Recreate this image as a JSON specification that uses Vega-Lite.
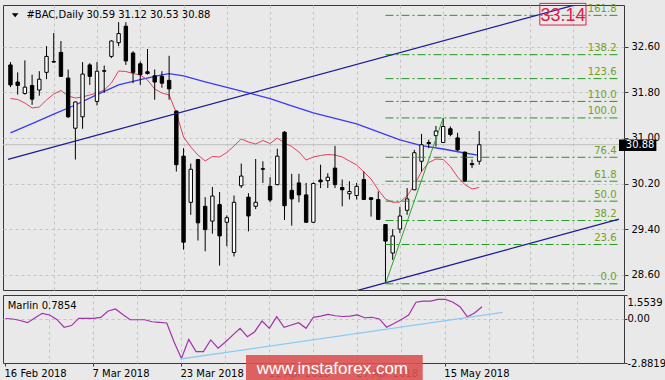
{
  "$schema": "https://vega.github.io/schema/vega-lite/v6.json",
  "background": "#e9e9e9",
  "padding": {"left": 2, "top": 2, "right": 0, "bottom": 0},
  "autosize": {"type": "pad"},
  "config": {
    "view": {"fill": "#e9e9e9", "stroke": "#3a3a3a", "strokeWidth": 1},
    "text": {"font": "DejaVu Sans"}
  },
  "spacing": 3,
  "vconcat": [
    {
      "width": 621,
      "height": 285,
      "layer": [
        {
          "data": {"values": [
            {"i": 0, "d": "2018-02-16", "O": 32.28, "H": 32.33, "L": 31.89, "C": 31.93},
            {"i": 1, "d": "2018-02-20", "O": 31.98, "H": 32.15, "L": 31.76, "C": 31.92},
            {"i": 2, "d": "2018-02-21", "O": 31.78, "H": 32.36, "L": 31.76, "C": 31.89},
            {"i": 3, "d": "2018-02-22", "O": 31.92, "H": 32.11, "L": 31.58, "C": 31.68},
            {"i": 4, "d": "2018-02-23", "O": 31.84, "H": 32.17, "L": 31.74, "C": 32.03},
            {"i": 5, "d": "2018-02-26", "O": 32.15, "H": 32.61, "L": 32.03, "C": 32.43},
            {"i": 6, "d": "2018-02-27", "O": 32.34, "H": 32.84, "L": 32.32, "C": 32.33},
            {"i": 7, "d": "2018-02-28", "O": 32.50, "H": 32.70, "L": 32.07, "C": 32.08},
            {"i": 8, "d": "2018-03-01", "O": 32.05, "H": 32.20, "L": 31.35, "C": 31.37},
            {"i": 9, "d": "2018-03-02", "O": 31.17, "H": 31.64, "L": 30.62, "C": 31.63},
            {"i": 10, "d": "2018-03-05", "O": 31.37, "H": 32.33, "L": 31.16, "C": 32.12},
            {"i": 11, "d": "2018-03-06", "O": 32.28, "H": 32.31, "L": 31.93, "C": 32.08},
            {"i": 12, "d": "2018-03-07", "O": 31.64, "H": 32.33, "L": 31.57, "C": 32.17},
            {"i": 13, "d": "2018-03-08", "O": 32.18, "H": 32.27, "L": 31.79, "C": 32.17},
            {"i": 14, "d": "2018-03-09", "O": 32.43, "H": 32.71, "L": 32.40, "C": 32.70},
            {"i": 15, "d": "2018-03-12", "O": 32.67, "H": 33.03, "L": 32.61, "C": 32.83},
            {"i": 16, "d": "2018-03-13", "O": 32.96, "H": 33.03, "L": 32.28, "C": 32.35},
            {"i": 17, "d": "2018-03-14", "O": 32.49, "H": 32.52, "L": 31.96, "C": 32.15},
            {"i": 18, "d": "2018-03-15", "O": 32.30, "H": 32.34, "L": 31.93, "C": 32.11},
            {"i": 19, "d": "2018-03-16", "O": 32.16, "H": 32.56, "L": 32.11, "C": 32.13},
            {"i": 20, "d": "2018-03-19", "O": 32.09, "H": 32.20, "L": 31.67, "C": 31.98},
            {"i": 21, "d": "2018-03-20", "O": 32.08, "H": 32.17, "L": 31.88, "C": 31.96},
            {"i": 22, "d": "2018-03-21", "O": 32.01, "H": 32.44, "L": 31.67, "C": 31.86},
            {"i": 23, "d": "2018-03-22", "O": 31.47, "H": 31.48, "L": 30.41, "C": 30.53},
            {"i": 24, "d": "2018-03-23", "O": 30.68, "H": 30.82, "L": 29.04, "C": 29.17},
            {"i": 25, "d": "2018-03-26", "O": 29.87, "H": 30.55, "L": 29.65, "C": 30.45},
            {"i": 26, "d": "2018-03-27", "O": 30.62, "H": 30.63, "L": 29.20, "C": 29.51},
            {"i": 27, "d": "2018-03-28", "O": 29.80, "H": 29.96, "L": 29.01, "C": 29.39},
            {"i": 28, "d": "2018-03-29", "O": 29.54, "H": 30.14, "L": 29.32, "C": 29.98},
            {"i": 29, "d": "2018-04-02", "O": 29.83, "H": 30.05, "L": 28.76, "C": 29.28},
            {"i": 30, "d": "2018-04-03", "O": 29.52, "H": 29.64, "L": 29.10, "C": 29.60},
            {"i": 31, "d": "2018-04-04", "O": 28.99, "H": 29.99, "L": 28.92, "C": 29.87},
            {"i": 32, "d": "2018-04-05", "O": 30.16, "H": 30.55, "L": 30.12, "C": 30.33},
            {"i": 33, "d": "2018-04-06", "O": 29.96, "H": 30.03, "L": 29.36, "C": 29.63},
            {"i": 34, "d": "2018-04-09", "O": 29.80, "H": 30.63, "L": 29.75, "C": 29.87},
            {"i": 35, "d": "2018-04-10", "O": 30.46, "H": 30.59, "L": 30.21, "C": 30.45},
            {"i": 36, "d": "2018-04-11", "O": 30.15, "H": 30.31, "L": 29.87, "C": 29.91},
            {"i": 37, "d": "2018-04-12", "O": 30.18, "H": 30.81, "L": 30.17, "C": 30.68},
            {"i": 38, "d": "2018-04-13", "O": 31.10, "H": 31.12, "L": 29.56, "C": 29.81},
            {"i": 39, "d": "2018-04-16", "O": 30.08, "H": 30.37, "L": 29.46, "C": 29.93},
            {"i": 40, "d": "2018-04-17", "O": 30.21, "H": 30.37, "L": 29.87, "C": 30.00},
            {"i": 41, "d": "2018-04-18", "O": 30.00, "H": 30.21, "L": 29.51, "C": 29.52},
            {"i": 42, "d": "2018-04-19", "O": 29.52, "H": 30.22, "L": 29.51, "C": 30.20},
            {"i": 43, "d": "2018-04-20", "O": 30.26, "H": 30.53, "L": 30.12, "C": 30.23},
            {"i": 44, "d": "2018-04-23", "O": 30.25, "H": 30.38, "L": 30.12, "C": 30.31},
            {"i": 45, "d": "2018-04-24", "O": 30.47, "H": 30.86, "L": 30.12, "C": 30.18},
            {"i": 46, "d": "2018-04-25", "O": 30.13, "H": 30.27, "L": 29.80, "C": 30.09},
            {"i": 47, "d": "2018-04-26", "O": 30.02, "H": 30.24, "L": 29.92, "C": 30.06},
            {"i": 48, "d": "2018-04-27", "O": 29.99, "H": 30.21, "L": 29.92, "C": 30.15},
            {"i": 49, "d": "2018-04-30", "O": 30.27, "H": 30.41, "L": 29.91, "C": 29.92},
            {"i": 50, "d": "2018-05-01", "O": 29.95, "H": 29.96, "L": 29.62, "C": 29.92},
            {"i": 51, "d": "2018-05-02", "O": 29.92, "H": 30.06, "L": 29.56, "C": 29.57},
            {"i": 52, "d": "2018-05-03", "O": 29.48, "H": 29.49, "L": 28.44, "C": 29.19},
            {"i": 53, "d": "2018-05-04", "O": 28.98, "H": 29.40, "L": 28.86, "C": 29.28},
            {"i": 54, "d": "2018-05-07", "O": 29.40, "H": 29.79, "L": 29.33, "C": 29.63},
            {"i": 55, "d": "2018-05-08", "O": 29.73, "H": 30.12, "L": 29.65, "C": 29.93},
            {"i": 56, "d": "2018-05-09", "O": 30.09, "H": 30.79, "L": 30.08, "C": 30.74},
            {"i": 57, "d": "2018-05-10", "O": 30.59, "H": 31.07, "L": 30.41, "C": 30.88},
            {"i": 58, "d": "2018-05-11", "O": 30.92, "H": 30.97, "L": 30.82, "C": 30.90},
            {"i": 59, "d": "2018-05-14", "O": 31.04, "H": 31.21, "L": 30.85, "C": 31.12},
            {"i": 60, "d": "2018-05-15", "O": 30.92, "H": 31.35, "L": 30.91, "C": 31.20},
            {"i": 61, "d": "2018-05-16", "O": 31.16, "H": 31.20, "L": 31.03, "C": 31.06},
            {"i": 62, "d": "2018-05-17", "O": 31.00, "H": 31.09, "L": 30.77, "C": 30.79},
            {"i": 63, "d": "2018-05-18", "O": 30.75, "H": 30.76, "L": 30.23, "C": 30.24},
            {"i": 64, "d": "2018-05-21", "O": 30.55, "H": 30.62, "L": 30.47, "C": 30.53},
            {"i": 65, "d": "2018-05-22", "O": 30.59, "H": 31.12, "L": 30.53, "C": 30.88}
          ]},
          "layer": [
            {
              "mark": {"type": "rule", "color": "#000000", "strokeWidth": 1},
              "encoding": {
                "x": {"field": "i", "type": "quantitative", "scale": {"domain": [-0.341, 84.38], "nice": false, "zero": false},
                  "axis": {"values": [6, 12, 18, 24, 30, 36, 42, 48, 54, 60, 66, 72, 78], "tickCount": 30, "grid": true, "gridColor": "#c4c4c4", "gridDash": [3, 3], "labels": false, "ticks": false, "domain": false, "title": null}},
                "y": {"field": "L", "type": "quantitative", "scale": {"domain": [28.3316, 33.3316], "nice": false, "zero": false},
                  "axis": {"orient": "right", "values": [28.6, 29.4, 30.2, 31.0, 31.8, 32.6], "tickCount": 20, "format": ".2f", "grid": true, "gridColor": "#c4c4c4", "gridDash": [3, 3], "domain": false, "ticks": true, "tickColor": "#3a3a3a", "tickSize": 4, "labelPadding": 3, "labelFont": "DejaVu Sans", "labelFontSize": 10, "labelColor": "#000000", "labelOverlap": false, "labelFlush": false, "title": null}},
                "y2": {"field": "H"},
                "opacity": {"value": 0}
              }
            },
            {
              "data": {"values": [{"p": 30.88}]},
              "mark": {"type": "rule", "color": "#bdbdbd", "strokeWidth": 1},
              "encoding": {
                "y": {"field": "p", "type": "quantitative", "title": null, "scale": {"domain": [28.3316, 33.3316], "nice": false, "zero": false}}
              }
            },
            {
              "data": {"values": [
                {"i": 0, "p": 31.089}, {"i": 3, "p": 31.251}, {"i": 6, "p": 31.416}, {"i": 9, "p": 31.577},
                {"i": 12, "p": 31.758}, {"i": 15, "p": 31.930}, {"i": 18, "p": 32.023}, {"i": 21, "p": 32.104},
                {"i": 22, "p": 32.126}, {"i": 24, "p": 32.088}, {"i": 27, "p": 31.984}, {"i": 30, "p": 31.886},
                {"i": 33, "p": 31.789}, {"i": 36, "p": 31.689}, {"i": 39, "p": 31.560}, {"i": 42, "p": 31.437},
                {"i": 45, "p": 31.344}, {"i": 48, "p": 31.246}, {"i": 51, "p": 31.107}, {"i": 54, "p": 30.967},
                {"i": 57, "p": 30.863}, {"i": 60, "p": 30.805}, {"i": 63, "p": 30.735}, {"i": 65, "p": 30.693}
              ]},
              "mark": {"type": "line", "color": "#3b3bf2", "strokeWidth": 1.3},
              "encoding": {
                "x": {"field": "i", "type": "quantitative", "title": null, "scale": {"domain": [-0.341, 84.38], "nice": false, "zero": false}},
                "y": {"field": "p", "type": "quantitative", "title": null, "scale": {"domain": [28.3316, 33.3316], "nice": false, "zero": false}}
              }
            },
            {
              "data": {"values": [
                {"i": 0, "p": 31.691}, {"i": 1, "p": 31.674}, {"i": 2, "p": 31.612}, {"i": 3, "p": 31.525},
                {"i": 4, "p": 31.542}, {"i": 5, "p": 31.665}, {"i": 6, "p": 31.770}, {"i": 7, "p": 31.832},
                {"i": 8, "p": 31.735}, {"i": 9, "p": 31.700}, {"i": 10, "p": 31.718}, {"i": 11, "p": 31.753},
                {"i": 12, "p": 31.788}, {"i": 13, "p": 31.840}, {"i": 14, "p": 31.963}, {"i": 15, "p": 32.174},
                {"i": 16, "p": 32.165}, {"i": 17, "p": 32.130}, {"i": 18, "p": 32.104}, {"i": 19, "p": 32.016},
                {"i": 20, "p": 31.858}, {"i": 21, "p": 31.788}, {"i": 22, "p": 31.753}, {"i": 23, "p": 31.437},
                {"i": 24, "p": 31.016}, {"i": 25, "p": 30.840}, {"i": 26, "p": 30.700}, {"i": 27, "p": 30.595},
                {"i": 28, "p": 30.674}, {"i": 29, "p": 30.665}, {"i": 30, "p": 30.744}, {"i": 31, "p": 30.858},
                {"i": 32, "p": 30.981}, {"i": 33, "p": 30.928}, {"i": 34, "p": 30.893}, {"i": 35, "p": 30.954},
                {"i": 36, "p": 30.902}, {"i": 37, "p": 30.998}, {"i": 38, "p": 30.911}, {"i": 39, "p": 30.849},
                {"i": 40, "p": 30.753}, {"i": 41, "p": 30.612}, {"i": 42, "p": 30.665}, {"i": 43, "p": 30.691},
                {"i": 44, "p": 30.709}, {"i": 45, "p": 30.700}, {"i": 46, "p": 30.665}, {"i": 47, "p": 30.595},
                {"i": 48, "p": 30.525}, {"i": 49, "p": 30.402}, {"i": 50, "p": 30.279}, {"i": 51, "p": 30.086},
                {"i": 52, "p": 29.928}, {"i": 53, "p": 29.870}, {"i": 54, "p": 29.875}, {"i": 55, "p": 29.981},
                {"i": 56, "p": 30.174}, {"i": 57, "p": 30.411}, {"i": 58, "p": 30.568}, {"i": 59, "p": 30.630},
                {"i": 60, "p": 30.621}, {"i": 61, "p": 30.498}, {"i": 62, "p": 30.314}, {"i": 63, "p": 30.182},
                {"i": 64, "p": 30.103}, {"i": 65, "p": 30.130}
              ]},
              "mark": {"type": "line", "color": "#e3405f", "strokeWidth": 1},
              "encoding": {
                "x": {"field": "i", "type": "quantitative", "title": null, "scale": {"domain": [-0.341, 84.38], "nice": false, "zero": false}},
                "y": {"field": "p", "type": "quantitative", "title": null, "scale": {"domain": [28.3316, 33.3316], "nice": false, "zero": false}}
              }
            },
            {
              "mark": {"type": "rule", "color": "#000000", "strokeWidth": 1},
              "encoding": {
                "x": {"field": "i", "type": "quantitative", "title": null, "scale": {"domain": [-0.341, 84.38], "nice": false, "zero": false}},
                "y": {"field": "L", "type": "quantitative", "title": null, "scale": {"domain": [28.3316, 33.3316], "nice": false, "zero": false}},
                "y2": {"field": "H"}
              }
            },
            {
              "mark": {"type": "bar", "width": 3.4, "stroke": "#000000", "strokeWidth": 1},
              "encoding": {
                "x": {"field": "i", "type": "quantitative", "title": null, "scale": {"domain": [-0.341, 84.38], "nice": false, "zero": false}},
                "y": {"field": "O", "type": "quantitative", "title": null, "scale": {"domain": [28.3316, 33.3316], "nice": false, "zero": false}},
                "y2": {"field": "C"},
                "fill": {"condition": {"test": "datum.C >= datum.O", "value": "#ffffff"}, "value": "#000000"}
              }
            }
          ]
        },
        {
          "data": {"values": [
            {"lvl": "0.0", "p": 28.44, "i": 52, "i2": 84.38},
            {"lvl": "23.6", "p": 29.13, "i": 52, "i2": 84.38},
            {"lvl": "38.2", "p": 29.55, "i": 52, "i2": 84.38},
            {"lvl": "50.0", "p": 29.89, "i": 52, "i2": 84.38},
            {"lvl": "61.8", "p": 30.24, "i": 52, "i2": 84.38},
            {"lvl": "76.4", "p": 30.66, "i": 52, "i2": 84.38},
            {"lvl": "100.0", "p": 31.35, "i": 52, "i2": 84.38},
            {"lvl": "110.0", "p": 31.64, "i": 52, "i2": 84.38},
            {"lvl": "123.6", "p": 32.04, "i": 52, "i2": 84.38},
            {"lvl": "138.2", "p": 32.46, "i": 52, "i2": 84.38},
            {"lvl": "161.8", "p": 33.15, "i": 52, "i2": 84.38}
          ]},
          "layer": [
            {
              "mark": {"type": "rule", "color": "#1f9a1f", "strokeWidth": 1, "strokeDash": [8, 3, 2, 3]},
              "encoding": {
                "x": {"field": "i", "type": "quantitative", "title": null, "scale": {"domain": [-0.341, 84.38], "nice": false, "zero": false}},
                "x2": {"field": "i2"},
                "y": {"field": "p", "type": "quantitative", "title": null, "scale": {"domain": [28.3316, 33.3316], "nice": false, "zero": false}}
              }
            },
            {
              "mark": {"type": "text", "align": "right", "baseline": "alphabetic", "dx": -2.5, "dy": -3.5, "font": "DejaVu Sans", "fontSize": 10, "color": "#6e9f2e"},
              "encoding": {
                "x": {"field": "i2", "type": "quantitative", "title": null, "scale": {"domain": [-0.341, 84.38], "nice": false, "zero": false}},
                "y": {"field": "p", "type": "quantitative", "title": null, "scale": {"domain": [28.3316, 33.3316], "nice": false, "zero": false}},
                "text": {"field": "lvl"}
              }
            }
          ]
        },
        {
          "data": {"values": [
            {"ln": "upper", "i": -0.341, "p": 30.623},
            {"ln": "upper", "i": 84.38, "p": 33.543},
            {"ln": "lower", "i": -0.341, "p": 26.653},
            {"ln": "lower", "i": 84.38, "p": 29.574}
          ]},
          "mark": {"type": "line", "color": "#1c1c96", "strokeWidth": 1.3, "clip": true},
          "encoding": {
            "x": {"field": "i", "type": "quantitative", "title": null, "scale": {"domain": [-0.341, 84.38], "nice": false, "zero": false}},
            "y": {"field": "p", "type": "quantitative", "title": null, "scale": {"domain": [28.3316, 33.3316], "nice": false, "zero": false}},
            "detail": {"field": "ln"}
          }
        },
        {
          "data": {"values": [{"i": 52, "p": 28.44}, {"i": 60, "p": 31.35}]},
          "mark": {"type": "line", "color": "#2fa52f", "strokeWidth": 1},
          "encoding": {
            "x": {"field": "i", "type": "quantitative", "title": null, "scale": {"domain": [-0.341, 84.38], "nice": false, "zero": false}},
            "y": {"field": "p", "type": "quantitative", "title": null, "scale": {"domain": [28.3316, 33.3316], "nice": false, "zero": false}}
          }
        },
        {
          "data": {"values": [{"i": 84.38, "i2": 89.56, "p": 30.972, "p2": 30.77}]},
          "mark": {"type": "rect", "fill": "#000000"},
          "encoding": {
            "x": {"field": "i", "type": "quantitative", "title": null, "scale": {"domain": [-0.341, 84.38], "nice": false, "zero": false}},
            "x2": {"field": "i2"},
            "y": {"field": "p", "type": "quantitative", "title": null, "scale": {"domain": [28.3316, 33.3316], "nice": false, "zero": false}},
            "y2": {"field": "p2"}
          }
        },
        {
          "data": {"values": [{"i": 85.33, "p": 30.88, "t": "30.88"}]},
          "mark": {"type": "text", "align": "left", "baseline": "middle", "font": "DejaVu Sans", "fontSize": 10, "color": "#ffffff"},
          "encoding": {
            "x": {"field": "i", "type": "quantitative", "title": null, "scale": {"domain": [-0.341, 84.38], "nice": false, "zero": false}},
            "y": {"field": "p", "type": "quantitative", "title": null, "scale": {"domain": [28.3316, 33.3316], "nice": false, "zero": false}},
            "text": {"field": "t"}
          }
        },
        {
          "data": {"values": [{"i": 73.4, "i2": 79.8, "p": 33.36, "p2": 32.98}]},
          "mark": {"type": "rect", "fill": null, "fillOpacity": 0, "stroke": "#e0204a", "strokeWidth": 1},
          "encoding": {
            "x": {"field": "i", "type": "quantitative", "title": null, "scale": {"domain": [-0.341, 84.38], "nice": false, "zero": false}},
            "x2": {"field": "i2"},
            "y": {"field": "p", "type": "quantitative", "title": null, "scale": {"domain": [28.3316, 33.3316], "nice": false, "zero": false}},
            "y2": {"field": "p2"}
          }
        },
        {
          "data": {"values": [{"i": 76.6, "p": 33.14, "t": "33.14"}]},
          "mark": {"type": "text", "align": "center", "baseline": "middle", "font": "Liberation Sans", "fontSize": 18, "color": "#e0204a"},
          "encoding": {
            "x": {"field": "i", "type": "quantitative", "title": null, "scale": {"domain": [-0.341, 84.38], "nice": false, "zero": false}},
            "y": {"field": "p", "type": "quantitative", "title": null, "scale": {"domain": [28.3316, 33.3316], "nice": false, "zero": false}},
            "text": {"field": "t"}
          }
        },
        {
          "data": {"values": [{"i": 0.65, "p": 33.151}]},
          "mark": {"type": "point", "shape": "M-1,-0.6L1,-0.6L0,0.6Z", "size": 45, "filled": true, "color": "#000000", "opacity": 1},
          "encoding": {
            "x": {"field": "i", "type": "quantitative", "title": null, "scale": {"domain": [-0.341, 84.38], "nice": false, "zero": false}},
            "y": {"field": "p", "type": "quantitative", "title": null, "scale": {"domain": [28.3316, 33.3316], "nice": false, "zero": false}}
          }
        },
        {
          "data": {"values": [
            {"i": 2.21, "p": 33.151, "t": "#BAC,Daily"},
            {"i": 10.53, "p": 33.151, "t": "30.59 31.12 30.53 30.88"}
          ]},
          "mark": {"type": "text", "align": "left", "baseline": "middle", "font": "DejaVu Sans", "fontSize": 10, "color": "#000000"},
          "encoding": {
            "x": {"field": "i", "type": "quantitative", "title": null, "scale": {"domain": [-0.341, 84.38], "nice": false, "zero": false}},
            "y": {"field": "p", "type": "quantitative", "title": null, "scale": {"domain": [28.3316, 33.3316], "nice": false, "zero": false}},
            "text": {"field": "t"}
          }
        }
      ]
    },
    {
      "width": 621,
      "height": 68,
      "layer": [
        {
          "data": {"values": [
            {"i": 0, "v": 0.02}, {"i": 1, "v": -0.01}, {"i": 2, "v": -0.11}, {"i": 3, "v": -0.25}, {"i": 4, "v": 0.05},
            {"i": 5, "v": 0.36}, {"i": 6, "v": 0.25}, {"i": 7, "v": -0.04}, {"i": 8, "v": -0.55}, {"i": 9, "v": -0.44},
            {"i": 10, "v": 0.03}, {"i": 11, "v": 0.03}, {"i": 12, "v": 0.03}, {"i": 13, "v": 0.09}, {"i": 14, "v": 0.51},
            {"i": 15, "v": 0.64}, {"i": 16, "v": 0.28}, {"i": 17, "v": -0.06}, {"i": 18, "v": -0.06}, {"i": 19, "v": -0.06},
            {"i": 20, "v": -0.19}, {"i": 21, "v": -0.23}, {"i": 22, "v": -0.27}, {"i": 23, "v": -1.51}, {"i": 24, "v": -2.58},
            {"i": 25, "v": -1.34}, {"i": 26, "v": -2.14}, {"i": 27, "v": -2.14}, {"i": 28, "v": -1.38}, {"i": 29, "v": -1.92},
            {"i": 30, "v": -1.51}, {"i": 31, "v": -1.06}, {"i": 32, "v": -0.62}, {"i": 33, "v": -1.17}, {"i": 34, "v": -0.84},
            {"i": 35, "v": -0.14}, {"i": 36, "v": -0.62}, {"i": 37, "v": 0.14}, {"i": 38, "v": -0.55}, {"i": 39, "v": -0.40},
            {"i": 40, "v": -0.25}, {"i": 41, "v": -0.62}, {"i": 42, "v": 0.10}, {"i": 43, "v": 0.18}, {"i": 44, "v": 0.29},
            {"i": 45, "v": 0.20}, {"i": 46, "v": 0.15}, {"i": 47, "v": 0.18}, {"i": 48, "v": 0.25}, {"i": 49, "v": 0.07},
            {"i": 50, "v": 0.10}, {"i": 51, "v": -0.01}, {"i": 52, "v": -0.55}, {"i": 53, "v": -0.31}, {"i": 54, "v": -0.04},
            {"i": 55, "v": 0.25}, {"i": 56, "v": 1.08}, {"i": 57, "v": 1.16}, {"i": 58, "v": 1.16}, {"i": 59, "v": 1.27},
            {"i": 60, "v": 1.27}, {"i": 61, "v": 1.10}, {"i": 62, "v": 0.79}, {"i": 63, "v": 0.14}, {"i": 64, "v": 0.38},
            {"i": 65, "v": 0.7854}
          ]},
          "mark": {"type": "line", "color": "#a232aa", "strokeWidth": 1.2},
          "encoding": {
            "x": {"field": "i", "type": "quantitative", "scale": {"domain": [-0.341, 84.38], "nice": false, "zero": false},
              "axis": {
                "values": [0, 6, 12, 18, 24, 30, 36, 42, 48, 54, 60, 66, 72, 78], "tickCount": 30,
                "grid": true, "gridColor": "#c4c4c4", "gridDash": [3, 3],
                "gridOpacity": {"condition": {"test": "datum.value > 0", "value": 1}, "value": 0},
                "domain": false, "ticks": true, "tickSize": 3, "tickColor": "#3a3a3a",
                "tickOpacity": {"condition": {"test": "datum.value % 12 == 0 && datum.value <= 60", "value": 1}, "value": 0},
                "labelExpr": "datum.value == 0 ? '16 Feb 2018' : datum.value == 12 ? '7 Mar 2018' : datum.value == 24 ? '23 Mar 2018' : datum.value == 36 ? '11 Apr 2018' : datum.value == 48 ? '27 Apr 2018' : datum.value == 60 ? '15 May 2018' : ''",
                "labelAlign": "left", "labelBaseline": "top", "labelOffset": -1.5, "labelPadding": 2,
                "labelFont": "DejaVu Sans", "labelFontSize": 10, "labelColor": "#000000",
                "labelOverlap": false, "labelFlush": false, "labelBound": false, "title": null
              }},
            "y": {"field": "v", "type": "quantitative", "scale": {"domain": [-2.8819, 1.5539], "nice": false, "zero": false},
              "axis": {
                "orient": "right", "values": [-2.8819, 0, 1.5539], "tickCount": 10,
                "labelExpr": "datum.value > 1 ? '1.5539' : datum.value < -1 ? '-2.8819' : '0.00'",
                "grid": true, "gridColor": "#c4c4c4", "gridDash": [3, 3],
                "gridOpacity": {"condition": {"test": "datum.value == 0", "value": 1}, "value": 0},
                "domain": false, "ticks": true, "tickSize": 3, "tickColor": "#3a3a3a",
                "labelPadding": 0, "labelBaseline": "middle",
                "labelOffset": {"condition": {"test": "datum.value > 1", "value": 7}, "value": 0},
                "labelFont": "DejaVu Sans", "labelFontSize": 10, "labelColor": "#000000",
                "labelOverlap": false, "labelFlush": false, "title": null
              }}
          }
        },
        {
          "data": {"values": [{"i": 23.85, "v": -2.622}, {"i": 67.83, "v": 0.424}]},
          "mark": {"type": "line", "color": "#8ccbf5", "strokeWidth": 1.3},
          "encoding": {
            "x": {"field": "i", "type": "quantitative", "title": null, "scale": {"domain": [-0.341, 84.38], "nice": false, "zero": false}},
            "y": {"field": "v", "type": "quantitative", "title": null, "scale": {"domain": [-2.8819, 1.5539], "nice": false, "zero": false}}
          }
        },
        {
          "data": {"values": [{"i": 0.3, "v": 0.854, "t": "Marlin 0.7854"}]},
          "mark": {"type": "text", "align": "left", "baseline": "middle", "font": "DejaVu Sans", "fontSize": 10, "color": "#000000"},
          "encoding": {
            "x": {"field": "i", "type": "quantitative", "title": null, "scale": {"domain": [-0.341, 84.38], "nice": false, "zero": false}},
            "y": {"field": "v", "type": "quantitative", "title": null, "scale": {"domain": [-2.8819, 1.5539], "nice": false, "zero": false}},
            "text": {"field": "t"}
          }
        },
        {
          "data": {"values": [{"i": 32.81, "i2": 56.92, "v": -2.361, "v2": -4.2}]},
          "mark": {"type": "rect", "fill": "#dc5252", "opacity": 0.9},
          "encoding": {
            "x": {"field": "i", "type": "quantitative", "title": null, "scale": {"domain": [-0.341, 84.38], "nice": false, "zero": false}},
            "x2": {"field": "i2"},
            "y": {"field": "v", "type": "quantitative", "title": null, "scale": {"domain": [-2.8819, 1.5539], "nice": false, "zero": false}},
            "y2": {"field": "v2"}
          }
        },
        {
          "data": {"values": [{"i": 44.6, "v": -3.27, "t": "www.instaforex.com"}]},
          "mark": {"type": "text", "align": "center", "baseline": "middle", "font": "Liberation Sans", "fontSize": 17, "color": "#ffffff"},
          "encoding": {
            "x": {"field": "i", "type": "quantitative", "title": null, "scale": {"domain": [-0.341, 84.38], "nice": false, "zero": false}},
            "y": {"field": "v", "type": "quantitative", "title": null, "scale": {"domain": [-2.8819, 1.5539], "nice": false, "zero": false}},
            "text": {"field": "t"}
          }
        }
      ]
    }
  ]
}
